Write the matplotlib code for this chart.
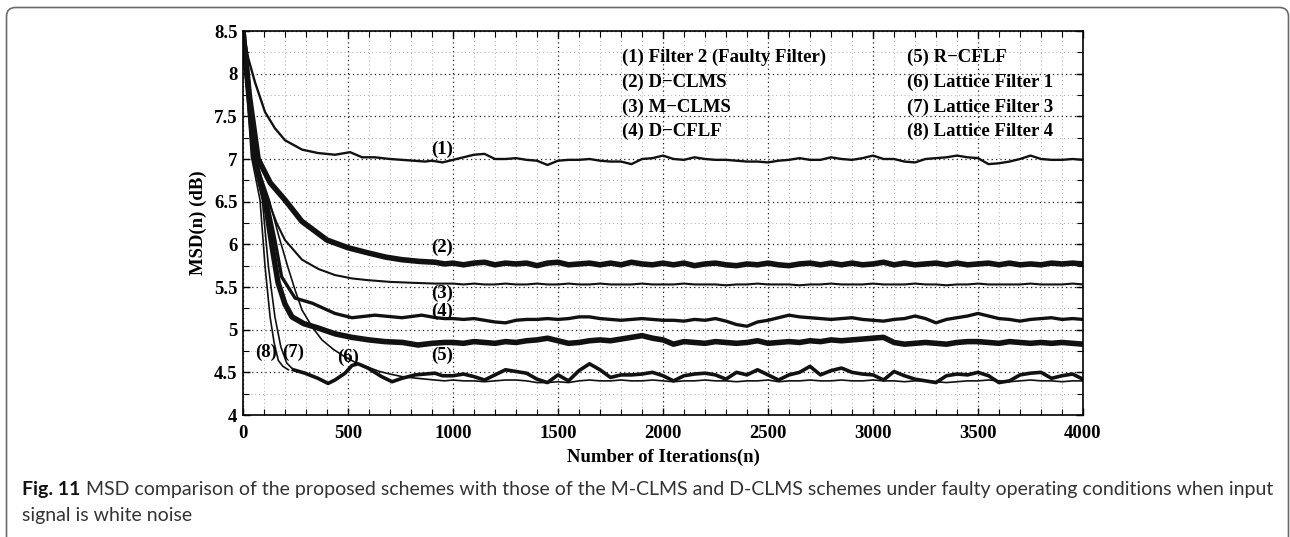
import matplotlib
matplotlib.use("Agg")
import matplotlib.pyplot as plt
from matplotlib.patches import FancyBboxPatch
from matplotlib.transforms import IdentityTransform
from matplotlib.ticker import MultipleLocator

# steady-state readings are taken every 50 iterations from 1000 to 4000
ss_n = list(range(1000, 4001, 50))

# (1) Filter 2 (Faulty Filter)
f2_n = [0, 25, 57, 105, 152, 200, 281, 357, 438, 510, 567, 628, 700, 757, 867, 900, 950]
f2_v = [8.5, 8.18, 7.9, 7.55, 7.36, 7.22, 7.11, 7.07, 7.05, 7.08, 7.02, 7.02, 7.0, 6.99, 6.97, 6.98, 6.96]
f2_ss = [6.99, 7.02, 7.05, 7.06, 7.00, 7.00, 7.01, 6.99, 6.98, 6.93,
         6.98, 6.99, 6.99, 7.00, 6.98, 6.97, 6.97, 6.94, 7.00, 7.01,
         7.04, 7.00, 6.99, 7.02, 7.00, 6.99, 6.99, 6.98, 6.97, 6.97,
         6.96, 6.98, 6.99, 7.01, 6.99, 6.99, 7.02, 7.00, 6.99, 7.01,
         7.04, 7.00, 7.00, 6.97, 6.96, 7.00, 7.01, 7.02, 7.04, 7.02,
         7.01, 6.94, 6.95, 6.97, 7.00, 7.04, 7.00, 6.99, 6.99, 7.00,
         6.99]

# (2) D-CLMS
dclms_n = [0, 30, 72, 130, 200, 280, 400, 500, 595, 680, 757, 840, 914, 960]
dclms_v = [8.5, 7.75, 7.0, 6.72, 6.52, 6.27, 6.05, 5.96, 5.90, 5.85, 5.82, 5.80, 5.79, 5.77]
dclms_ss = [5.78, 5.76, 5.78, 5.79, 5.76, 5.78, 5.77, 5.78, 5.75, 5.78,
            5.79, 5.76, 5.77, 5.78, 5.76, 5.78, 5.76, 5.79, 5.77, 5.76,
            5.78, 5.76, 5.78, 5.75, 5.77, 5.78, 5.76, 5.75, 5.77, 5.76,
            5.78, 5.76, 5.75, 5.77, 5.78, 5.76, 5.78, 5.76, 5.78, 5.76,
            5.77, 5.79, 5.76, 5.78, 5.76, 5.77, 5.78, 5.76, 5.78, 5.76,
            5.77, 5.78, 5.76, 5.78, 5.76, 5.77, 5.76, 5.78, 5.77, 5.78,
            5.77]

# (3) M-CLMS
mclms_n = [0, 55, 119, 160, 200, 281, 360, 438, 520, 595, 700, 800, 914, 960]
mclms_v = [8.5, 7.0, 6.52, 6.25, 6.05, 5.82, 5.71, 5.64, 5.60, 5.58, 5.56, 5.55, 5.54, 5.54]
mclms_ss = [5.54, 5.53, 5.54, 5.53, 5.53, 5.54, 5.53, 5.53, 5.54, 5.53,
            5.53, 5.54, 5.53, 5.53, 5.54, 5.53, 5.53, 5.53, 5.54, 5.53,
            5.53, 5.53, 5.54, 5.53, 5.53, 5.53, 5.52, 5.53, 5.53, 5.54,
            5.53, 5.53, 5.53, 5.52, 5.53, 5.53, 5.54, 5.53, 5.53, 5.53,
            5.54, 5.53, 5.53, 5.53, 5.54, 5.53, 5.53, 5.52, 5.53, 5.53,
            5.54, 5.53, 5.53, 5.53, 5.53, 5.54, 5.53, 5.53, 5.53, 5.54,
            5.53]

# (4) D-CFLF
dcflf_n = [0, 55, 113, 152, 184, 248, 330, 438, 519, 628, 757, 851, 920, 960]
dcflf_v = [8.5, 7.0, 6.52, 6.05, 5.62, 5.37, 5.31, 5.19, 5.14, 5.17, 5.14, 5.17, 5.14, 5.13]
dcflf_ss = [5.13, 5.12, 5.13, 5.11, 5.09, 5.08, 5.11, 5.12, 5.12, 5.13,
            5.12, 5.13, 5.15, 5.15, 5.13, 5.12, 5.11, 5.12, 5.13, 5.12,
            5.11, 5.11, 5.10, 5.12, 5.11, 5.13, 5.10, 5.06, 5.04, 5.09,
            5.11, 5.14, 5.17, 5.15, 5.14, 5.13, 5.12, 5.13, 5.14, 5.12,
            5.11, 5.10, 5.12, 5.13, 5.16, 5.13, 5.08, 5.12, 5.14, 5.16,
            5.19, 5.16, 5.13, 5.12, 5.10, 5.12, 5.13, 5.14, 5.12, 5.13,
            5.12]

# (5) R-CFLF
rcflf_n = [0, 55, 105, 140, 167, 200, 233, 290, 357, 440, 519, 600, 676, 760, 833, 900, 960]
rcflf_v = [8.5, 7.0, 6.52, 5.95, 5.55, 5.30, 5.15, 5.07, 5.02, 4.95, 4.91, 4.88, 4.86, 4.85, 4.82, 4.84, 4.85]
rcflf_ss = [4.85, 4.84, 4.86, 4.85, 4.84, 4.86, 4.85, 4.87, 4.88, 4.90,
            4.87, 4.84, 4.85, 4.87, 4.88, 4.87, 4.89, 4.91, 4.93, 4.90,
            4.88, 4.83, 4.86, 4.85, 4.84, 4.86, 4.85, 4.84, 4.85, 4.87,
            4.84, 4.85, 4.86, 4.85, 4.87, 4.86, 4.88, 4.87, 4.88, 4.89,
            4.90, 4.91, 4.85, 4.83, 4.84, 4.85, 4.84, 4.83, 4.85, 4.86,
            4.86, 4.85, 4.84, 4.86, 4.85, 4.84, 4.85, 4.84, 4.85, 4.84,
            4.83]

# (6) Lattice Filter 1
lat1_n = [0, 58, 125, 170, 214, 250, 281, 330, 376, 430, 486, 540, 595, 650, 700, 757, 830, 914, 960]
lat1_v = [8.5, 7.0, 6.52, 6.10, 5.73, 5.45, 5.23, 5.03, 4.88, 4.77, 4.68, 4.61, 4.56, 4.51, 4.48, 4.45, 4.43, 4.41, 4.40]
lat1_ss = [4.41, 4.40, 4.40, 4.39, 4.40, 4.41, 4.41, 4.40, 4.38, 4.38,
           4.39, 4.38, 4.40, 4.41, 4.40, 4.40, 4.41, 4.40, 4.40, 4.41,
           4.40, 4.39, 4.40, 4.40, 4.41, 4.40, 4.40, 4.39, 4.40, 4.40,
           4.41, 4.39, 4.40, 4.40, 4.41, 4.40, 4.40, 4.41, 4.40, 4.40,
           4.41, 4.40, 4.40, 4.39, 4.40, 4.40, 4.39, 4.38, 4.39, 4.40,
           4.40, 4.41, 4.40, 4.39, 4.40, 4.41, 4.40, 4.40, 4.39, 4.40,
           4.40]

# (7) Lattice Filter 3 and (8) Lattice Filter 4, converging part
lat3_n = [0, 45, 92, 121, 152, 180, 208, 240]
lat3_v = [8.5, 7.03, 6.52, 5.74, 5.15, 4.80, 4.61, 4.53]
lat4_n = [0, 40, 81, 105, 129, 148, 168, 190, 216]
lat4_v = [8.5, 7.03, 6.52, 5.74, 5.15, 4.85, 4.64, 4.57, 4.53]

# (7)/(8) after convergence, where the two curves overlap
lat34_n = [240, 295, 357, 405, 438, 486, 519, 548, 595, 660, 710, 757, 819, 914, 950]
lat34_v = [4.53, 4.49, 4.43, 4.37, 4.41, 4.49, 4.58, 4.60, 4.55, 4.45, 4.39, 4.43, 4.47, 4.49, 4.46]
lat34_ss = [4.46, 4.48, 4.45, 4.41, 4.47, 4.53, 4.51, 4.49, 4.42, 4.38,
            4.47, 4.40, 4.52, 4.60, 4.53, 4.44, 4.47, 4.47, 4.48, 4.50,
            4.46, 4.40, 4.46, 4.48, 4.49, 4.47, 4.42, 4.50, 4.47, 4.53,
            4.47, 4.41, 4.47, 4.50, 4.57, 4.47, 4.52, 4.55, 4.50, 4.48,
            4.47, 4.41, 4.51, 4.46, 4.42, 4.40, 4.38, 4.46, 4.48, 4.47,
            4.50, 4.46, 4.38, 4.40, 4.47, 4.49, 4.50, 4.43, 4.46, 4.48,
            4.42]

legend_left = ["(1) Filter 2 (Faulty Filter)", "(2) D\u2212CLMS", "(3) M\u2212CLMS", "(4) D\u2212CFLF"]
legend_right = ["(5) R\u2212CFLF", "(6) Lattice Filter 1", "(7) Lattice Filter 3", "(8) Lattice Filter 4"]

curve_tags = ["(1)", "(2)", "(3)", "(4)", "(5)", "(6)", "(7)", "(8)"]
tag_n = [950, 950, 950, 950, 950, 500, 238, 110]
tag_v = [7.11, 5.97, 5.43, 5.21, 4.70, 4.68, 4.73, 4.73]

plt.rcParams["font.family"] = "Liberation Serif"
plt.rcParams["font.weight"] = "bold"
plt.rcParams["axes.labelweight"] = "bold"

fig = plt.figure(figsize=(12.9, 5.37), dpi=100)
ax = fig.add_axes([243 / 1290, 1 - 415 / 537, 840 / 1290, 384 / 537])

c = "#111111"
ax.plot(f2_n + ss_n, f2_v + f2_ss, color=c, lw=1.7)
ax.plot(dclms_n + ss_n, dclms_v + dclms_ss, color=c, lw=4.0)
ax.plot(mclms_n + ss_n, mclms_v + mclms_ss, color=c, lw=1.5)
ax.plot(dcflf_n + ss_n, dcflf_v + dcflf_ss, color=c, lw=2.4)
ax.plot(rcflf_n + ss_n, rcflf_v + rcflf_ss, color=c, lw=4.0)
ax.plot(lat1_n + ss_n, lat1_v + lat1_ss, color=c, lw=1.2)
ax.plot(lat3_n, lat3_v, color=c, lw=1.2)
ax.plot(lat4_n, lat4_v, color=c, lw=1.2)
ax.plot(lat34_n + ss_n, lat34_v + lat34_ss, color=c, lw=2.6)

ax.set_xlim(0, 4000)
ax.set_ylim(4, 8.5)
ax.xaxis.set_major_locator(MultipleLocator(500))
ax.xaxis.set_minor_locator(MultipleLocator(100))
ax.yaxis.set_minor_locator(MultipleLocator(0.25))
ax.set_yticks([4, 4.5, 5, 5.5, 6, 6.5, 7, 7.5, 8, 8.5])
ax.set_yticklabels(["4", "4.5", "5", "5.5", "6", "6.5", "7", "7.5", "8", "8.5"])

ax.grid(which="major", color="#222222", linestyle=(0, (1, 2.5)), lw=0.9)
ax.grid(which="minor", color="#aaaaaa", linestyle=(0, (1, 3)), lw=0.7)
ax.tick_params(which="both", direction="in", top=True, right=True, labelsize=13.5)
ax.tick_params(axis="x", pad=7)
ax.tick_params(axis="y", pad=4)
ax.tick_params(which="major", length=5, width=1)
ax.tick_params(which="minor", length=4, width=0.8)
for lab in ax.get_xticklabels() + ax.get_yticklabels():
    lab.set_fontweight("bold")
for s in ax.spines.values():
    s.set_linewidth(1.2)

ax.set_xlabel("Number of Iterations(n)", fontsize=13.5, labelpad=5)
ax.set_ylabel("MSD(n) (dB)", fontsize=13.5, labelpad=5)

for i, t in enumerate(legend_left):
    ax.text(1805, 8.19 - 0.29 * i, t, fontsize=13.5, va="center", ha="left")
for i, t in enumerate(legend_right):
    ax.text(3160, 8.19 - 0.29 * i, t, fontsize=13.5, va="center", ha="left")

for t, x, y in zip(curve_tags, tag_n, tag_v):
    ax.text(x, y, t, fontsize=13.5, ha="center", va="center")

# rounded frame around the figure panel
frame = FancyBboxPatch((6.5, -40), 1282, 537 - 7.5 + 40,
                       boxstyle="round,pad=0,rounding_size=9",
                       transform=IdentityTransform(), fill=False,
                       ec="#6a6a6a", lw=1.2)
fig.add_artist(frame)

cap_font = "Lato"
cap_size = 14.0
t1 = fig.text(22 / 1290, 1 - 489 / 537, "Fig. 11", family=cap_font, weight="bold",
              fontsize=cap_size, va="center", ha="left", color="#111111")
fig.canvas.draw()
bb = t1.get_window_extent()
fig.text((bb.x1 + 6) / 1290, 1 - 489 / 537,
         "MSD comparison of the proposed schemes with those of the M-CLMS and D-CLMS schemes "
         "under faulty operating conditions when input",
         family=cap_font, weight="normal", fontsize=cap_size, va="center", ha="left", color="#333333")
fig.text(22 / 1290, 1 - 515 / 537, "signal is white noise", family=cap_font, weight="normal",
         fontsize=cap_size, va="center", ha="left", color="#333333")

fig.savefig("out.png", dpi=100)
